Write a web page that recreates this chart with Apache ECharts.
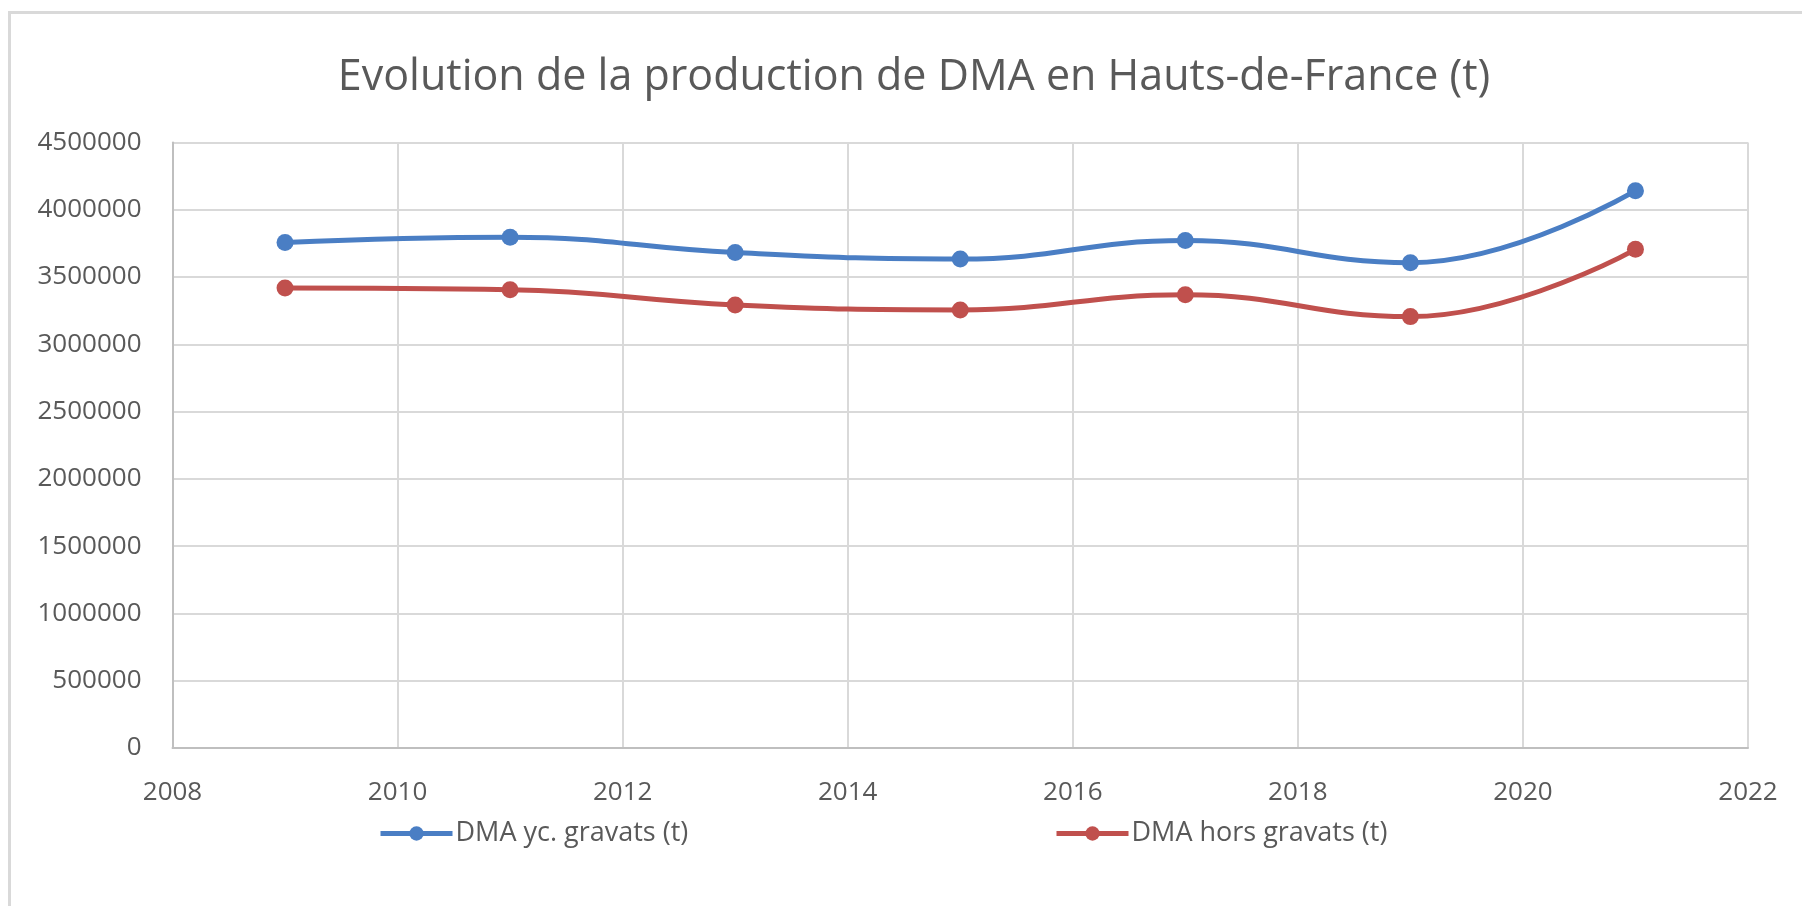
<!DOCTYPE html>
<html>
<head>
<meta charset="utf-8">
<script src="https://cdn.jsdelivr.net/npm/echarts@6/dist/echarts.min.js"></script>
<style>
html,body{margin:0;padding:0;background:#fff;}
#chart{width:1802px;height:906px;}
</style>
</head>
<body>
<div id="chart"></div>
<script>
const titleText = 'Evolution de la production de DMA en Hauts-de-France (t)';
const years = [2009, 2011, 2013, 2015, 2017, 2019, 2021];
const dmaYcGravats = [3756000, 3796000, 3682000, 3634000, 3771000, 3607000, 4142000];
const dmaHorsGravats = [3418000, 3405000, 3293000, 3256000, 3368000, 3206000, 3706000];
const seriesNames = ['DMA yc. gravats (t)', 'DMA hors gravats (t)'];
const xMin = 2008, xMax = 2022, xStep = 2;
const yMin = 0, yMax = 4500000, yStep = 500000;

const FONT = 'Open Sans';
const TXT = '#595959';
const BLUE = '#4A7EC4';
const RED = '#C0504D';

const chart = echarts.init(document.getElementById('chart'), null, {renderer: 'canvas'});
const pairs = arr => years.map((y, i) => [y, arr[i]]);

const legendCommon = {
  top: 815,
  itemWidth: 72, itemHeight: 18,
  lineStyle: {width: 5},
  textStyle: {fontFamily: FONT, fontSize: 27, color: TXT, padding: [0, 0, 0, -2]}
};

chart.setOption({
  animation: false,
  backgroundColor: '#ffffff',
  graphic: [{
    type: 'rect',
    shape: {x: 9.5, y: 12.5, width: 1900, height: 1000},
    style: {fill: 'none', stroke: '#D9D9D9', lineWidth: 3},
    silent: true
  }, {
    type: 'text',
    x: 914, y: 78,
    silent: true,
    style: {
      text: titleText,
      align: 'center',
      verticalAlign: 'middle',
      fontFamily: FONT, fontSize: 43, fontWeight: 'normal',
      fill: TXT
    }
  }],
  legend: [
    Object.assign({data: [seriesNames[0]], left: 373}, legendCommon),
    Object.assign({data: [seriesNames[1]], left: 1049}, legendCommon)
  ],
  grid: {left: 172.5, right: 54, top: 142.5, bottom: 158, containLabel: false},
  xAxis: {
    type: 'value',
    min: xMin, max: xMax, interval: xStep,
    axisLine: {show: true, lineStyle: {color: '#BFBFBF', width: 2}},
    axisTick: {show: false},
    splitLine: {show: true, lineStyle: {color: '#D9D9D9', width: 2}},
    axisLabel: {margin: 32, fontFamily: FONT, fontSize: 26, color: TXT, formatter: v => String(v)}
  },
  yAxis: {
    type: 'value',
    min: yMin, max: yMax, interval: yStep,
    axisLine: {show: true, lineStyle: {color: '#BFBFBF', width: 2}},
    axisTick: {show: false},
    splitLine: {show: true, lineStyle: {color: '#D9D9D9', width: 2}},
    axisLabel: {margin: 31, fontFamily: FONT, fontSize: 26, color: TXT, formatter: v => String(v)}
  },
  series: [{
    name: seriesNames[0],
    type: 'line',
    data: pairs(dmaYcGravats),
    smooth: 0.45,
    symbol: 'circle',
    symbolSize: 17,
    color: BLUE,
    lineStyle: {width: 5, color: BLUE},
    itemStyle: {color: BLUE}
  }, {
    name: seriesNames[1],
    type: 'line',
    data: pairs(dmaHorsGravats),
    smooth: 0.45,
    symbol: 'circle',
    symbolSize: 17,
    color: RED,
    lineStyle: {width: 5, color: RED},
    itemStyle: {color: RED}
  }]
});
</script>
</body>
</html>
